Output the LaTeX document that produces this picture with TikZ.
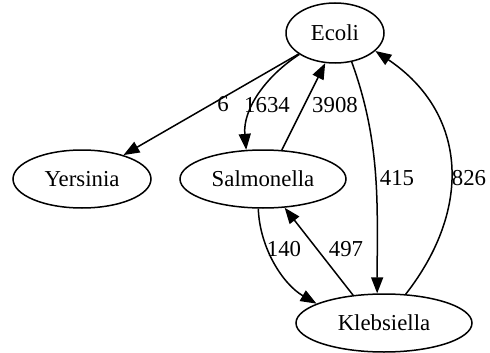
\documentclass[tikz,border=0pt]{standalone}
\usepackage{fontspec}
\setmainfont{Liberation Serif}
\usetikzlibrary{shapes.geometric,arrows.meta}

\begin{document}
\begin{tikzpicture}[x=1pt,y=-1pt,
            taxon/.style={draw=black,ellipse,line width=1.5pt,inner sep=0pt,minimum height=58pt},
            link/.style={draw=black,line width=1.5pt,-{Triangle[length=16pt,width=12pt]}},
            count/.style={inner sep=0pt}]
            \useasboundingbox (0,0) rectangle (490,353);
            \fontsize{22.8}{27}\selectfont
            \node [taxon,minimum width=98pt,minimum height=60pt] (ecoli) at (335,33) {Ecoli};
            \node [taxon,minimum width=138pt] (yersinia) at (82,179) {Yersinia};
            \node [taxon,minimum width=166pt] (salmonella) at (263,179) {Salmonella};
            \node [taxon,minimum width=176pt] (klebsiella) at (384,323) {Klebsiella};
            \draw [link] (ecoli) -- (yersinia);
            \draw [link] (ecoli.211) to[out=213,in=95,looseness=0.95] (salmonella.120);
            \draw [link] (salmonella.57) -- (ecoli.252);
            \draw [link] (ecoli.300) to[out=-70,in=90,looseness=0.95] (klebsiella.103);
            \draw [link] (klebsiella.53) to[out=52,in=-34,looseness=1.15] (ecoli.336);
            \draw [link] (salmonella.261) to[out=-88,in=150,looseness=0.9] (klebsiella.164);
            \draw [link] (klebsiella.138) -- (salmonella.307);
            \node [count] (n6) at (223,104) {6};
            \node [count] (n1634) at (267,105) {1634};
            \node [count] (n3908) at (335,105) {3908};
            \node [count] (n415) at (397,178) {415};
            \node [count] (n826) at (469,178) {826};
            \node [count] (n140) at (284,249) {140};
            \node [count] (n497) at (346,249) {497};
\end{tikzpicture}
\end{document}
